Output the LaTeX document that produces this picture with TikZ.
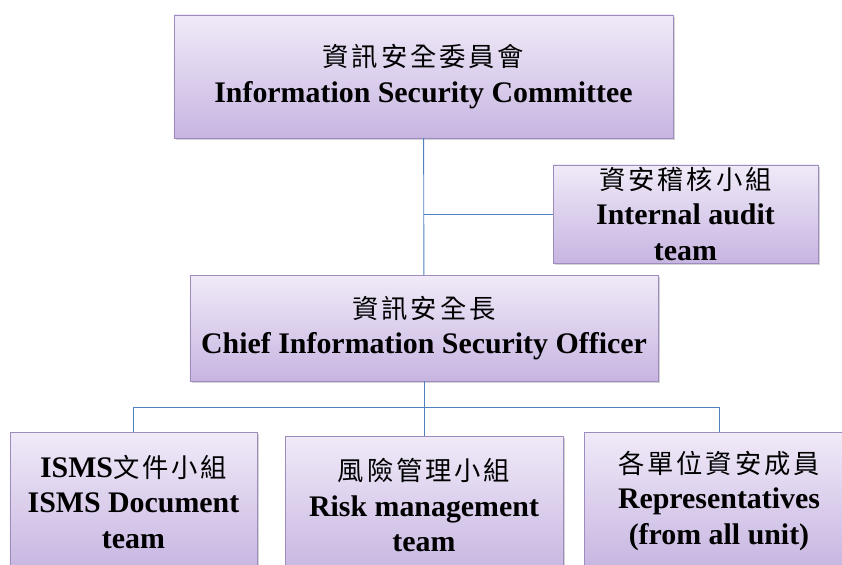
\documentclass[tikz,border=0pt]{standalone}
\usepackage{fontspec}
\setmainfont{Liberation Serif}
\newfontfamily\cjk[Scale=0.88,LetterSpace=11]{Noto Sans CJK TC}
\usetikzlibrary{shadows}

\definecolor{boxtop}{RGB}{240,234,248}
\definecolor{boxbottom}{RGB}{199,181,225}
\definecolor{boxline}{RGB}{158,140,190}
\definecolor{linkblue}{RGB}{79,129,189}

\tikzstyle{unit} = [rectangle, draw=boxline, top color=boxtop, bottom color=boxbottom, align=center, inner sep=0pt, font=\fontsize{30}{35.5}\selectfont\bfseries, drop shadow={shadow xshift=2bp, shadow yshift=-2bp, opacity=0.35}]
\tikzstyle{link} = [draw=linkblue, line width=0.9bp]

\begin{document}
\begin{tikzpicture}[x=1bp, y=-1bp]
    \useasboundingbox (0,0) rectangle (842,565);
	\node (committee) at (423.5,76.5) [unit, minimum width=499bp, minimum height=123bp] {{\cjk\mdseries 資訊安全委員會}\\Information Security Committee};
	\node (audit) at (685.5,214) [unit, minimum width=265bp, minimum height=98bp] {{\cjk\mdseries 資安稽核小組}\\Internal audit\\team};
	\node (ciso) at (424,328) [unit, minimum width=468bp, minimum height=106bp] {{\cjk\mdseries 資訊安全長}\\Chief Information Security Officer};
	\node (isms) at (133.5,502) [unit, minimum width=247bp, minimum height=140bp] {ISMS{\cjk\mdseries 文件小組}\\ISMS Document\\team};
	\node (risk) at (424,505) [unit, minimum width=278bp, minimum height=138bp] {{\cjk\mdseries 風險管理小組}\\Risk management\\team};
	\node (rep) at (719,501) [unit, minimum width=270bp, minimum height=138bp] {{\cjk\mdseries 各單位資安成員}\\Representatives\\(from all unit)};
	\draw [link] (committee) -- (ciso);
	\draw [link] (committee.south |- audit.west) -- (audit.west);
	\draw [link] (ciso.south) -- ++(0,26) coordinate (bus);
	\draw [link] (isms.north) |- (bus) -| (rep.north);
	\draw [link] (bus) -- (risk.north);
\end{tikzpicture}
\end{document}
